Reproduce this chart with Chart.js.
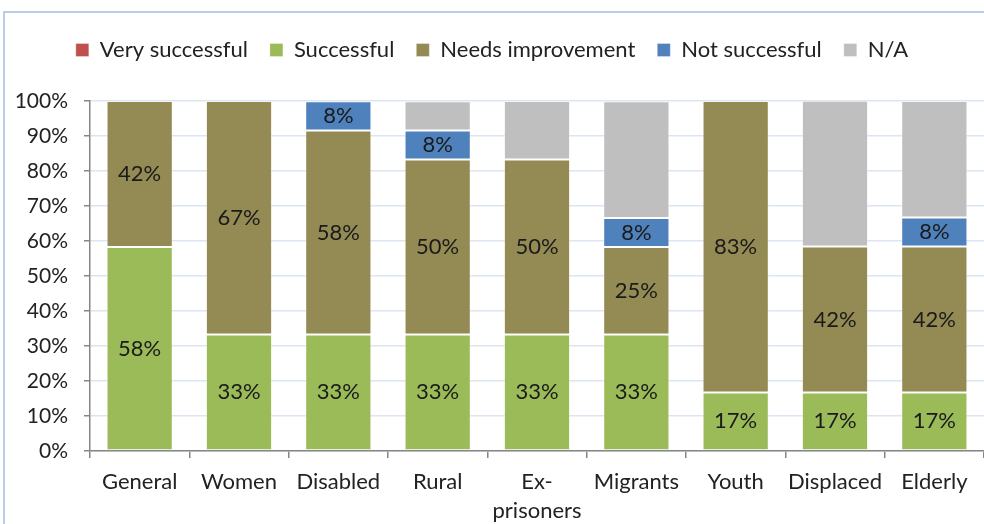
<!DOCTYPE html>
<html>
<head>
<meta charset="utf-8">
<script src="https://cdn.jsdelivr.net/npm/chart.js@4/dist/chart.umd.min.js"></script>
<style>
  html, body { margin: 0; padding: 0; background: #fff; }
  body { width: 984px; height: 524px; position: relative; overflow: hidden; }
  .frame { position: absolute; left: 3px; top: 11px; width: 1100px; height: 700px; border: 2px solid #B9CDE5; }
  #wrap { position: absolute; left: 0; top: 0; width: 984px; height: 524px; }
</style>
</head>
<body>
<div class="frame"></div>
<div id="wrap"><canvas id="groupChart"></canvas></div>
<script>
var categories = ['General', 'Women', 'Disabled', 'Rural', ['Ex-', 'prisoners'], 'Migrants', 'Youth', 'Displaced', 'Elderly'];
var verySuccessful   = [0, 0, 0, 0, 0, 0, 0, 0, 0];
var successful       = [58.3, 33.3, 33.3, 33.3, 33.3, 33.3, 16.7, 16.7, 16.7];
var needsImprovement = [41.7, 66.7, 58.3, 50, 50, 25, 83.3, 41.7, 41.7];
var notSuccessful    = [0, 0, 8.3, 8.3, 0, 8.3, 0, 0, 8.3];
var notApplicable    = [0, 0, 0, 8.3, 16.7, 33.3, 0, 41.7, 33.3];
var yTicks = [0, 10, 20, 30, 40, 50, 60, 70, 80, 90, 100];

var FONT = 'Lato, "Open Sans", sans-serif';
var FS = 22;

function series(label, data, color, showLabels) {
  return {
    label: label,
    data: data,
    backgroundColor: color,
    borderColor: 'rgba(255,255,255,0.3)',
    borderWidth: 1,
    borderSkipped: false,
    barPercentage: 0.667,
    categoryPercentage: 1.0,
    showLabels: showLabels
  };
}

document.addEventListener('DOMContentLoaded', function() {
  var ctx = document.getElementById('groupChart');
  new Chart(ctx, {
    type: 'bar',
    data: {
      labels: categories,
      datasets: [
        series('Very successful', verySuccessful, '#C0504D', true),
        series('Successful', successful, '#9BBB59', true),
        series('Needs improvement', needsImprovement, '#948A54', true),
        series('Not successful', notSuccessful, '#4F81BD', true),
        series('N/A', notApplicable, '#BFBFBF', false)
      ]
    },
    options: {
      responsive: true,
      maintainAspectRatio: false,
      animation: false,
      layout: { padding: { top: 17, left: 0, right: 0, bottom: 0 } },
      plugins: {
        legend: {
          position: 'top',
          labels: {
            boxWidth: 13,
            boxHeight: 13,
            padding: 22,
            color: '#222',
            font: { family: FONT, size: FS }
          }
        },
        tooltip: { enabled: false }
      },
      scales: {
        x: {
          stacked: true,
          grid: { display: true, drawOnChartArea: false, offset: true, tickLength: 7, tickColor: '#868686', lineWidth: 1.5 },
          border: { color: '#868686', width: 1.5 },
          ticks: { color: '#222', font: { family: FONT, size: FS, lineHeight: 1.32 }, padding: 9, maxRotation: 0, autoSkip: false },
          afterFit: function(scale) { scale.height = 73; }
        },
        y: {
          stacked: true,
          min: 0,
          max: 100,
          afterBuildTicks: function(scale) {
            scale.ticks = yTicks.map(function(v) { return { value: v }; });
          },
          grid: { color: '#DCE6F2', lineWidth: 1.5, tickLength: 6, tickColor: '#868686' },
          border: { color: '#868686', width: 1.5 },
          ticks: {
            color: '#222',
            font: { family: FONT, size: 21 },
            padding: 16,
            callback: function(v) { return v + '%'; }
          },
          afterFit: function(scale) { scale.width = 90; }
        }
      }
    },
    plugins: [{
      id: 'legendHeight',
      afterInit: function(chart) {
        var legend = chart.legend;
        var fit = legend.fit;
        legend.fit = function() {
          fit.call(this);
          this.height = 84;
        };
      }
    }, {
      id: 'segmentLabels',
      afterDatasetsDraw: function(chart) {
        var c = chart.ctx;
        c.save();
        c.fillStyle = '#1a1a1a';
        c.font = FS + 'px ' + FONT;
        c.textAlign = 'center';
        c.textBaseline = 'middle';
        chart.data.datasets.forEach(function(ds, di) {
          if (!ds.showLabels) return;
          var meta = chart.getDatasetMeta(di);
          ds.data.forEach(function(val, i) {
            if (!val) return;
            var bar = meta.data[i];
            c.fillText(Math.round(val) + '%', bar.x, (bar.y + bar.base) / 2);
          });
        });
        c.restore();
      }
    }]
  });
});
</script>
</body>
</html>
